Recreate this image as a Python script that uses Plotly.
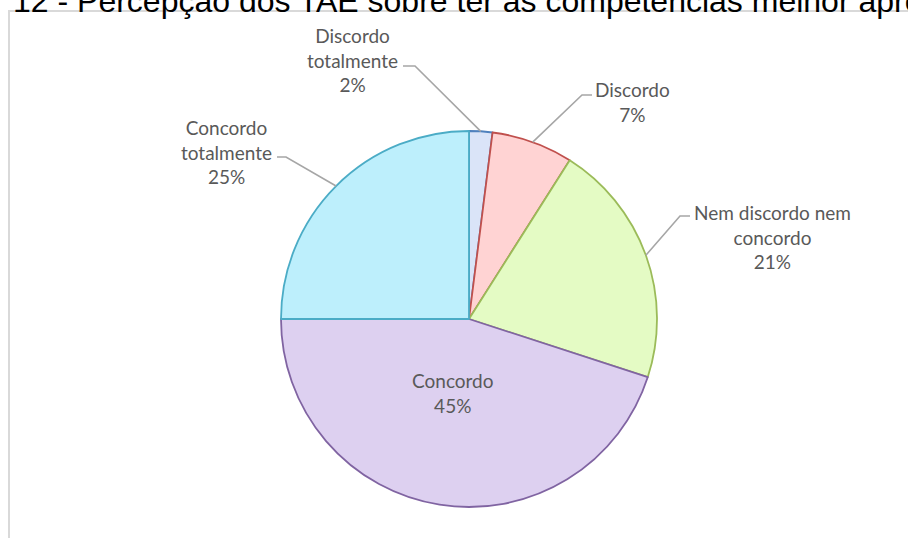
import math
import plotly.graph_objects as go

# Survey answers, in the order the slices run clockwise from 12 o'clock
categories = ["Discordo totalmente", "Discordo", "Nem discordo nem concordo",
              "Concordo", "Concordo totalmente"]
values = [2, 7, 21, 45, 25]

title_text = "12 - Percepção dos TAE sobre ter as competências melhor aproveitadas"

# Slice styling
fill_colors = ["#dae4f8", "#ffd3d3", "#e4fbc4", "#ddd0f0", "#bdeffc"]
edge_colors = ["#4f81bd", "#c0504d", "#9bbb59", "#8064a2", "#4bacc6"]

# Wrapped label text for each category
wrapped = {
    "Discordo totalmente": "Discordo<br>totalmente",
    "Discordo": "Discordo",
    "Nem discordo nem concordo": "Nem discordo nem<br>concordo",
    "Concordo": "Concordo",
    "Concordo totalmente": "Concordo<br>totalmente",
}

# Label placement in pixels: text centre, and leader elbow / end (None = inside label)
label_pos = {
    "Discordo totalmente": dict(x=352, y=60, elbow=(415, 66), end=(403, 66)),
    "Discordo": dict(x=632, y=102, elbow=(582, 95), end=(592, 95)),
    "Nem discordo nem concordo": dict(x=772, y=237, elbow=(680, 216), end=(690, 216)),
    "Concordo": dict(x=453, y=393, elbow=None, end=None),
    "Concordo totalmente": dict(x=226, y=152, elbow=(286, 157), end=(277, 157)),
}

W, H = 908, 538
CX, CY, R = 469, 319, 188


def px(x):
    return x / W


def py(y):
    return 1 - y / H


fig = go.Figure(go.Pie(
    labels=categories,
    values=values,
    sort=False,
    direction="clockwise",
    rotation=0,
    textinfo="none",
    hoverinfo="label+percent",
    marker=dict(colors=fill_colors, line=dict(color=edge_colors, width=1.8)),
    domain=dict(x=[px(CX - R), px(CX + R)], y=[py(CY + R), py(CY - R)]),
    showlegend=False,
))

total = sum(values)
shapes = [
    # outer chart-area frame
    dict(type="rect", xref="paper", yref="paper",
         x0=px(9), x1=px(940), y0=py(11), y1=py(580),
         line=dict(color="#d9d9d9", width=2), fillcolor="rgba(0,0,0,0)", layer="below"),
]
annotations = []
cum = 0
for cat, v in zip(categories, values):
    mid = 2 * math.pi * (cum + v / 2) / total
    cum += v
    pct = round(100 * v / total)
    pos = label_pos[cat]
    annotations.append(dict(
        x=px(pos["x"]), y=py(pos["y"]), xref="paper", yref="paper",
        text=f"{wrapped[cat]}<br>{pct}%", showarrow=False,
        xanchor="center", yanchor="middle", align="center",
        font=dict(family="Lato", size=19, color="#595959"),
    ))
    if pos["elbow"] is not None:
        sx = CX + R * math.sin(mid)
        sy = CY - R * math.cos(mid)
        ex, ey = pos["elbow"]
        hx, hy = pos["end"]
        shapes.append(dict(
            type="path", xref="paper", yref="paper",
            path=f"M {px(sx)},{py(sy)} L {px(ex)},{py(ey)} L {px(hx)},{py(hy)}",
            line=dict(color="#a6a6a6", width=1.6),
        ))

# Chart heading, running off the top and right of the frame
annotations.append(dict(
    x=px(11), y=py(1.0), xref="paper", yref="paper",
    text=title_text, showarrow=False, xanchor="left", yanchor="middle",
    font=dict(family="Liberation Sans", size=32, color="#000000"),
))

fig.update_layout(
    width=W, height=H,
    margin=dict(l=0, r=0, t=0, b=0),
    paper_bgcolor="white", plot_bgcolor="white",
    shapes=shapes, annotations=annotations,
)

fig.write_html("out.html")
